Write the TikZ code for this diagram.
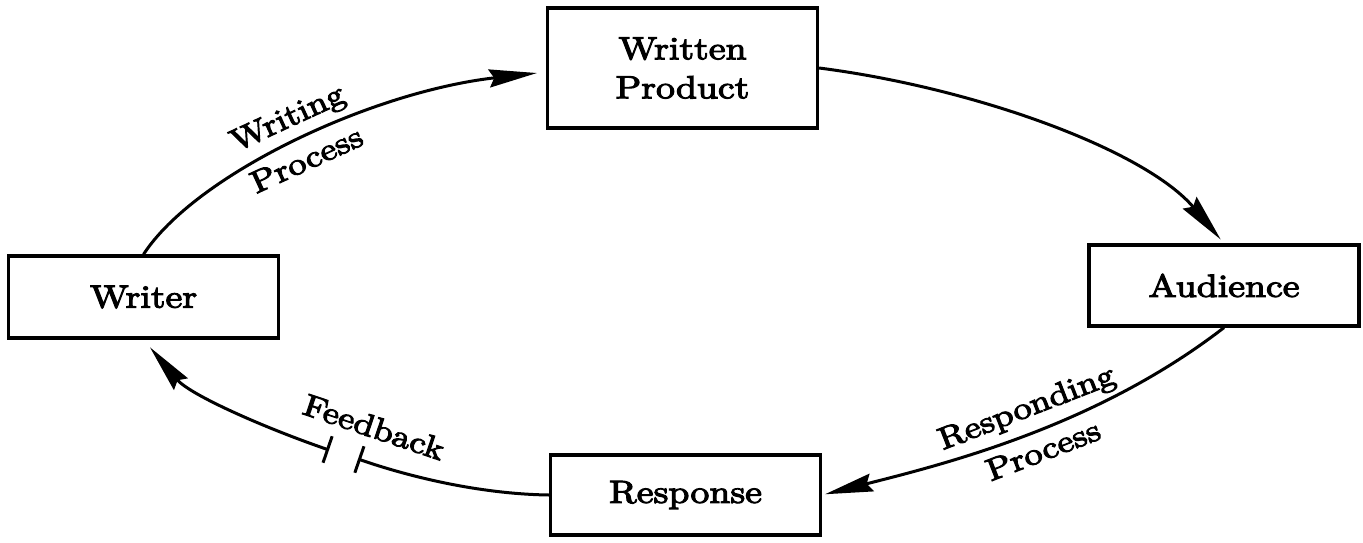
\documentclass[tikz,border=0pt]{standalone}
\usepackage{fontspec}
\setmainfont{lmroman10-regular.otf}[FakeStretch=1.18,FakeBold=3.5]
\usetikzlibrary{arrows.meta,calc}
\begin{document}
\begin{tikzpicture}[x=1pt,y=-1pt,
  box/.style={draw, line width=3.2pt, minimum width=270pt, inner sep=0pt,
    font=\fontsize{32}{39}\selectfont, align=center},
  arr/.style={line width=3pt, -{Stealth[length=48pt,width=18pt,inset=5pt]}},
  plain/.style={line width=3pt},
  lbl/.style={font=\fontsize{31}{37}\selectfont, sloped, inner sep=1pt}]
\useasboundingbox (0,0) rectangle (1363,543);
\node[box, minimum height=120pt] (wp) at (682.5,68) {Written\\Product};
\node[box, minimum height=82pt] (writer) at (143.5,297) {Writer};
\node[box, minimum height=81pt] (aud) at (1224,285.5) {Audience};
\node[box, minimum height=80pt] (resp) at (685.5,495) {Response};
\coordinate (gr) at (358,459);
\coordinate (gl) at (329,450);
% Writing process
\draw[arr, shorten >=9pt] (writer.north) .. controls (195,175) and (370,92) .. ([yshift=-4pt]wp.west)
  node[lbl, pos=0.5, above=7pt] {Writing}
  node[lbl, pos=0.5, below=7pt] {Process};
% to audience
\draw[arr, shorten >=5pt] (wp.east) .. controls (975,88) and (1145,150) .. (aud.north);
% responding process
\draw[arr, shorten >=3pt] (aud.south) .. controls (1098,425) and (949,463) .. (resp.east)
  node[lbl, pos=0.47, above=7pt] {Responding}
  node[lbl, pos=0.47, below=7pt] {Process};
% feedback
\draw[plain, -{Bar[width=28pt]}] (resp.west) .. controls (480,494) and (410,477) .. (gr)
  node[lbl, pos=0.97, above=22pt] {Feedback};
\draw[arr, {Bar[width=28pt]}-{Stealth[length=48pt,width=18pt,inset=5pt]}, shorten >=10pt]
  (gl) .. controls (265,428) and (190,395) .. (writer.south);
\end{tikzpicture}
\end{document}
